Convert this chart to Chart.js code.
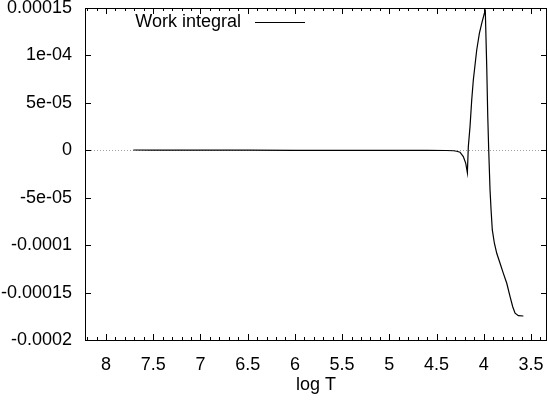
<!DOCTYPE html>
<html>
<head>
<meta charset="utf-8">
<script src="https://cdn.jsdelivr.net/npm/chart.js@4/dist/chart.umd.min.js"></script>
<style>
html, body { margin: 0; padding: 0; background: #fff; }
#wrap { width: 548px; height: 400px; }
</style>
</head>
<body>
<div id="wrap"><canvas id="workChart"></canvas></div>
<script>
// values
var logT = [7.71, 7.5, 7.0, 6.5, 6.0, 5.5, 5.0, 4.6, 4.4, 4.32, 4.287, 4.252, 4.217, 4.191, 4.174,
    4.164, 4.146, 4.128, 4.111, 4.093, 4.075, 4.047, 4.022, 3.994, 3.984,
    3.969, 3.958, 3.948, 3.941, 3.934, 3.923, 3.910, 3.888, 3.863, 3.828, 3.793,
    3.757, 3.722, 3.694, 3.669, 3.634, 3.581];
var workIntegral = [3e-7, 2e-7, 1e-7, 1e-7, 0, 0, 0, 0, -2e-7, -5e-7, -1.0e-6, -2.0e-6, -6.7e-6, -1.37e-5, -2.36e-5,
    3.8e-6, 2.49e-5, 5.30e-5, 7.41e-5, 8.99e-5, 1.057e-4, 1.233e-4, 1.339e-4, 1.444e-4, 1.468e-4,
    8.81e-5, 3.54e-5, 0, -2.1e-5, -4.2e-5, -6.3e-5, -8.4e-5, -9.8e-5, -1.086e-4, -1.191e-4, -1.297e-4,
    -1.402e-4, -1.543e-4, -1.649e-4, -1.718e-4, -1.744e-4, -1.747e-4];

var xTicks = [8, 7.5, 7, 6.5, 6, 5.5, 5, 4.5, 4, 3.5];
var xTickLabels = ['8', '7.5', '7', '6.5', '6', '5.5', '5', '4.5', '4', '3.5'];
var yTicks = [0.00015, 0.0001, 0.00005, 0, -0.00005, -0.0001, -0.00015, -0.0002];
var yTickLabels = ['0.00015', '1e-04', '5e-05', '0', '-5e-05', '-0.0001', '-0.00015', '-0.0002'];

var FONT = 'Liberation Sans';
var FONT_SIZE = 18;

// gnuplot style frame, inward ticks, zero line and key
var gnuplotFrame = {
    id: 'gnuplotFrame',
    beforeDatasetsDraw: function (chart) {
        var ctx = chart.ctx, a = chart.chartArea, y = chart.scales.y;
        var y0 = Math.round(y.getPixelForValue(0)) + 0.5;
        ctx.save();
        ctx.strokeStyle = '#a0a0a0';
        ctx.lineWidth = 1;
        ctx.setLineDash([1, 2]);
        ctx.beginPath();
        ctx.moveTo(a.left, y0);
        ctx.lineTo(a.right, y0);
        ctx.stroke();
        ctx.restore();
    },
    afterDraw: function (chart) {
        var ctx = chart.ctx, a = chart.chartArea;
        var x = chart.scales.x, y = chart.scales.y;
        ctx.save();
        ctx.strokeStyle = '#000';
        ctx.lineWidth = 1;
        ctx.beginPath();
        // x ticks every 0.1, longer at labelled ones
        for (var i = 34; i <= 82; i++) {
            var px = Math.round(x.getPixelForValue(i / 10)) + 0.5;
            if (px <= a.left || px >= a.right) continue;
            var len = (i % 5 === 0) ? 6 : 3;
            ctx.moveTo(px, a.bottom); ctx.lineTo(px, a.bottom - len);
            ctx.moveTo(px, a.top); ctx.lineTo(px, a.top + len);
        }
        yTicks.forEach(function (v) {
            var py = Math.round(y.getPixelForValue(v)) + 0.5;
            ctx.moveTo(a.left, py); ctx.lineTo(a.left + 6, py);
            ctx.moveTo(a.right, py); ctx.lineTo(a.right - 6, py);
        });
        ctx.stroke();
        ctx.strokeRect(Math.round(a.left) + 0.5, Math.round(a.top) + 0.5,
            Math.round(a.right - a.left) - 1, Math.round(a.bottom - a.top));
        // key
        var ds = chart.data.datasets[0];
        ctx.font = FONT_SIZE + 'px "' + FONT + '"';
        ctx.fillStyle = '#000';
        ctx.textAlign = 'right';
        ctx.textBaseline = 'alphabetic';
        ctx.fillText(ds.label, 241, 27);
        ctx.beginPath();
        ctx.moveTo(255, 22.5);
        ctx.lineTo(305, 22.5);
        ctx.stroke();
        ctx.restore();
    }
};

var work = document.getElementById('workChart').getContext('2d');
var workChart = new Chart(work, {
    type: 'scatter',
    data: {
        datasets: [{
            label: 'Work integral',
            data: logT.map(function (t, i) { return { x: t, y: workIntegral[i] }; }),
            showLine: true,
            borderColor: '#000',
            borderWidth: 1.2,
            pointRadius: 0,
            tension: 0
        }]
    },
    options: {
        responsive: true,
        maintainAspectRatio: false,
        animation: false,
        events: [],
        layout: { padding: { top: 8, right: 1, left: 0, bottom: 0 } },
        plugins: {
            legend: { display: false },
            tooltip: { enabled: false }
        },
        scales: {
            x: {
                type: 'linear',
                reverse: true,
                min: 3.331,
                max: 8.222,
                grid: { display: false, drawTicks: false },
                border: { display: false },
                afterBuildTicks: function (scale) {
                    scale.ticks = xTicks.map(function (v) { return { value: v }; });
                },
                afterFit: function (scale) {
                    scale.height = 60;
                    scale.paddingLeft = 0;
                    scale.paddingRight = 0;
                },
                ticks: {
                    autoSkip: false,
                    maxRotation: 0,
                    padding: 14,
                    color: '#000',
                    font: { family: FONT, size: FONT_SIZE },
                    callback: function (v) { return xTickLabels[xTicks.indexOf(v)]; }
                },
                title: {
                    display: true,
                    text: 'log T',
                    color: '#000',
                    font: { family: FONT, size: FONT_SIZE },
                    padding: { top: 0, bottom: 4 }
                }
            },
            y: {
                min: -0.0002,
                max: 0.00015,
                grid: { display: false, drawTicks: false },
                border: { display: false },
                afterBuildTicks: function (scale) {
                    scale.ticks = yTicks.map(function (v) { return { value: v }; });
                },
                afterFit: function (scale) {
                    scale.width = 85;
                    scale.paddingTop = 0;
                    scale.paddingBottom = 0;
                },
                ticks: {
                    padding: 13,
                    color: '#000',
                    font: { family: FONT, size: FONT_SIZE },
                    callback: function (v) { return yTickLabels[yTicks.indexOf(v)]; }
                }
            }
        }
    },
    plugins: [gnuplotFrame]
});
</script>
</body>
</html>
